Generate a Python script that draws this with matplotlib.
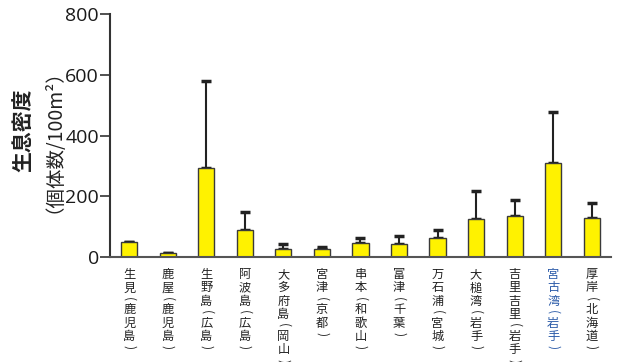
import numpy as np
import matplotlib
matplotlib.use('Agg')
import matplotlib.pyplot as plt

plt.rcParams['font.family'] = ['Noto Sans CJK JP', 'DejaVu Sans']

# data
sites = ['生見(鹿児島)', '鹿屋(鹿児島)', '生野島(広島)', '阿波島(広島)',
         '大多府島(岡山)', '宮津(京都)', '串本(和歌山)', '富津(千葉)',
         '万石浦(宮城)', '大槌湾(岩手)', '吉里吉里(岩手)', '宮古湾(岩手)',
         '厚岸(北海道)']
density = [49, 12, 293, 89, 26, 26, 46, 43, 63, 125, 135, 309, 129]
err_top = [0, 0, 580, 148, 44, 33, 63, 69, 89, 217, 188, 477, 177]
highlight = '宮古湾(岩手)'

yerr = [max(t - d, 0) for t, d in zip(err_top, density)]
x = np.arange(len(sites))

fig = plt.figure(figsize=(6.19, 3.62), dpi=100)
ax = fig.add_axes([0.1777, 0.290, 0.8093, 0.671])

ax.bar(x, density, width=0.42, color='#fff200', edgecolor='#3a3a3a', linewidth=1.0, zorder=2)
ax.errorbar(x, density, yerr=[np.zeros(len(x)), yerr], fmt='none', ecolor='#222222',
            elinewidth=1.5, capsize=3.5, capthick=2.5, zorder=1)

ax.set_xlim(-0.5, 12.5)
ax.set_ylim(0, 800)
ax.set_yticks([0, 200, 400, 600, 800])
ax.tick_params(axis='y', length=7, width=1.2, color='#333333', labelsize=14, pad=1,
               labelcolor='#1a1a1a')
for lab in ax.get_yticklabels():
    lab.set_fontfamily(['Open Sans', 'DejaVu Sans'])
ax.set_xticks([])

for side in ['top', 'right']:
    ax.spines[side].set_visible(False)
ax.spines['left'].set_color('#333333')
ax.spines['left'].set_linewidth(1.5)
ax.spines['bottom'].set_color('#555555')
ax.spines['bottom'].set_linewidth(1.5)

# vertical site labels, one character at a time (px -> pt: *0.72)
for i, s in enumerate(sites):
    c = '#2a5aa8' if s == highlight else '#222222'
    cur = 11.0
    for ch in s:
        if ch in '()':
            step = 8.5
            rot = -90
        else:
            step = 13.3
            rot = 0
        ax.annotate(ch, xy=(i, 0), xycoords=('data', 'axes fraction'),
                    xytext=(0, -(cur + step / 2) * 0.72), textcoords='offset points',
                    ha='center', va='center', rotation=rot, fontsize=8.8, color=c,
                    annotation_clip=False)
        cur += step

# y label, two lines
fig.text(0.037, 0.641, '生息密度', rotation=90, ha='center', va='center', fontsize=15,
         fontweight='bold', color='#222222', rotation_mode='anchor')
fig.text(0.071, 0.637, '（個体数/100m²）', rotation=90, ha='center', va='center', fontsize=14,
         color='#222222', rotation_mode='anchor')

fig.savefig('out.png', dpi=100)
